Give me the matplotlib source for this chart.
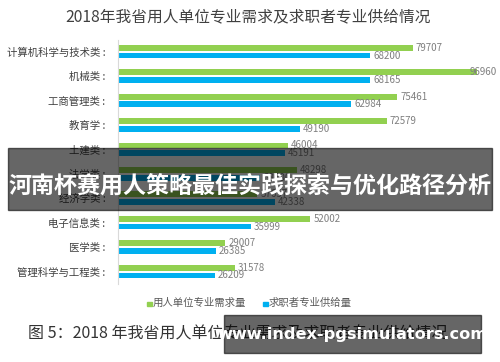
import matplotlib
matplotlib.use("Agg")
import matplotlib.pyplot as plt
from matplotlib.patches import Rectangle
import numpy as np

plt.rcParams['font.family'] = ['Noto Sans CJK SC', 'DejaVu Sans']

categories = ["计算机科学与技术类", "机械类", "工商管理类", "教育学", "土建类",
              "法学类", "经济学类", "电子信息类", "医学类", "管理科学与工程类"]
demand = [79707, 96960, 75461, 72579, 46004, 48298, 37657, 52002, 29007, 31578]
supply = [68200, 68165, 62984, 49190, 45191, 38500, 42338, 35999, 26385, 26209]
series_names = ["用人单位专业需求量", "求职者专业供给量"]

green = "#92D050"
blue = "#00B0F0"
gray_txt = "#7f7f7f"

fig = plt.figure(figsize=(5, 3.62), dpi=100)
ax = fig.add_axes([0.236, 0.2155, 0.74, 0.675])

y = np.arange(len(categories))
h = 0.24
ax.barh(y - 0.17, demand, height=h, color=green)
ax.barh(y + 0.15, supply, height=h, color=blue)
for yi, d, s in zip(y, demand, supply):
    ax.text(min(d + 800, 95000), yi - 0.17, str(d), va='center', ha='left', fontsize=7, color=gray_txt)
    ax.text(min(s + 800, 95000), yi + 0.15, str(s), va='center', ha='left', fontsize=7, color=gray_txt)

ax.set_xlim(0, 100000)
ax.set_ylim(len(categories) - 0.5, -0.5)
ax.set_yticks(y)
ax.set_yticklabels([c + " :" for c in categories], fontsize=7.5, color="#404040")
ax.tick_params(axis='y', length=0, pad=9)
ax.set_xticks([])
for sp in ['top', 'right', 'bottom']:
    ax.spines[sp].set_visible(False)
ax.spines['left'].set_color("#d9d9d9")
ax.spines['left'].set_linewidth(0.8)

fig.text(0.497, 1 - 17 / 362, "2018年我省用人单位专业需求及求职者专业供给情况", ha='center', va='center',
         fontsize=11.3, color="#404040")

# legend
ly = 1 - 303 / 362
fig.patches.append(Rectangle((147 / 500, ly - 0.008), 0.009, 0.012, transform=fig.transFigure, color=green))
fig.text(153 / 500, ly, series_names[0], ha='left', va='center', fontsize=7.5, color="#595959")
fig.patches.append(Rectangle((263 / 500, ly - 0.008), 0.009, 0.012, transform=fig.transFigure, color=blue))
fig.text(269 / 500, ly, series_names[1], ha='left', va='center', fontsize=7.5, color="#595959")

# caption
fig.text(28 / 500, 1 - 334 / 362, "图 5：2018 年我省用人单位专业需求及求职者专业供给情况", ha='left', va='center',
         fontsize=11.5, color="#333333")

# banner overlay
fig.patches.append(Rectangle((8 / 500, 1 - 210 / 362), 484 / 500, 62 / 362, transform=fig.transFigure,
                             color="black", alpha=0.6, zorder=10))
fig.text(0.5, 1 - 186 / 362, "河南杯赛用人策略最佳实践探索与优化路径分析", ha='center', va='center',
         fontsize=16.6, color="white", fontweight='bold', zorder=11)

# watermark
fig.patches.append(Rectangle((224 / 500, 1 - 353 / 362), 257 / 500, 38 / 362, transform=fig.transFigure,
                             color="black", alpha=0.6, zorder=10))
fig.text(352 / 500, 1 - 334 / 362, "www.index-pgsimulators.com", ha='center', va='center',
         fontsize=11.6, color="white", fontweight='bold', family=['DejaVu Sans'], zorder=11)

fig.savefig("out.png", dpi=100)
